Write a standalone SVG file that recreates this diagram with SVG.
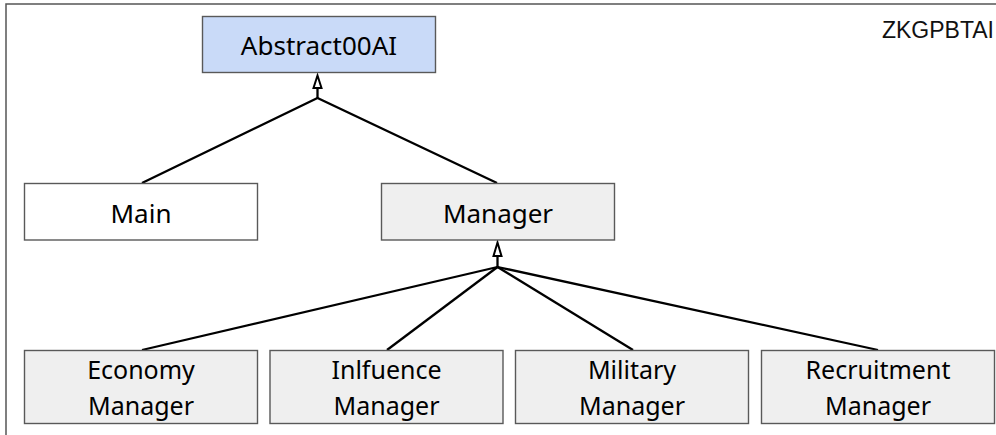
<svg xmlns="http://www.w3.org/2000/svg" width="996" height="435" viewBox="0 0 996 435">
  <defs>
    <style>
      .box { stroke: #595959; stroke-width: 1.4; }
      .plain { fill: #ffffff; }
      .grey { fill: #efefef; }
      .blue { fill: #c9daf8; }
      .lbl { font-family: "Noto Sans", "Open Sans", sans-serif; font-size: 26px; fill: #000000; text-anchor: middle; }
      .lbl2 { font-family: "Noto Sans", "Open Sans", sans-serif; font-size: 25px; fill: #000000; text-anchor: middle; }
      .edge { stroke: #000000; stroke-width: 2.3; fill: none; }
      .head { stroke: #000000; stroke-width: 2; fill: #ffffff; stroke-linejoin: miter; }
    </style>
  </defs>

  <rect x="0" y="0" width="996" height="435" fill="#ffffff"/>
  <!-- page frame -->
  <rect x="6" y="4" width="1000" height="450" fill="none" stroke="#555555" stroke-width="1.5"/>
  <text x="994" y="38" font-family="'Liberation Sans', Arial, sans-serif" font-size="23" fill="#111111" text-anchor="end">ZKGPBTAI</text>

  <g id="connectors">
    <!-- inheritance: Main, Manager -> Abstract00AI -->
    <polyline class="edge" points="142,183 317.5,98 497,183"/>
    <line class="edge" x1="317.5" y1="98" x2="317.5" y2="88"/>
    <polygon class="head" points="317.5,75.5 313.5,88 321.5,88"/>
    <!-- inheritance: specialised managers -> Manager -->
    <line class="edge" x1="142" y1="350" x2="497.5" y2="267"/>
    <line class="edge" x1="387" y1="350" x2="497.5" y2="267"/>
    <line class="edge" x1="633" y1="350" x2="497.5" y2="267"/>
    <line class="edge" x1="878" y1="350" x2="497.5" y2="267"/>
    <line class="edge" x1="497.5" y1="267" x2="497.5" y2="256"/>
    <polygon class="head" points="497.5,242.5 493.5,256 501.5,256"/>
  </g>

  <g id="abstract00ai">
    <rect class="box blue" x="202.5" y="16.5" width="233" height="56"/>
    <text class="lbl" x="319" y="55">Abstract00AI</text>
  </g>

  <g id="main">
    <rect class="box plain" x="24.5" y="183.5" width="233" height="56.5"/>
    <text class="lbl" x="141" y="222.5">Main</text>
  </g>

  <g id="manager">
    <rect class="box grey" x="381.5" y="183.5" width="233" height="56.5"/>
    <text class="lbl" x="498" y="222.5">Manager</text>
  </g>

  <g id="economy-manager">
    <rect class="box grey" x="24.5" y="350.5" width="233" height="73"/>
    <text class="lbl2" x="141" y="379">Economy</text>
    <text class="lbl2" x="141" y="415">Manager</text>
  </g>

  <g id="influence-manager">
    <rect class="box grey" x="270" y="350.5" width="233" height="73"/>
    <text class="lbl2" x="386.5" y="379">Inlfuence</text>
    <text class="lbl2" x="386.5" y="415">Manager</text>
  </g>

  <g id="military-manager">
    <rect class="box grey" x="515.5" y="350.5" width="233" height="73"/>
    <text class="lbl2" x="632" y="379">Military</text>
    <text class="lbl2" x="632" y="415">Manager</text>
  </g>

  <g id="recruitment-manager">
    <rect class="box grey" x="761.5" y="350.5" width="233" height="73"/>
    <text class="lbl2" x="878" y="379">Recruitment</text>
    <text class="lbl2" x="878" y="415">Manager</text>
  </g>
</svg>
